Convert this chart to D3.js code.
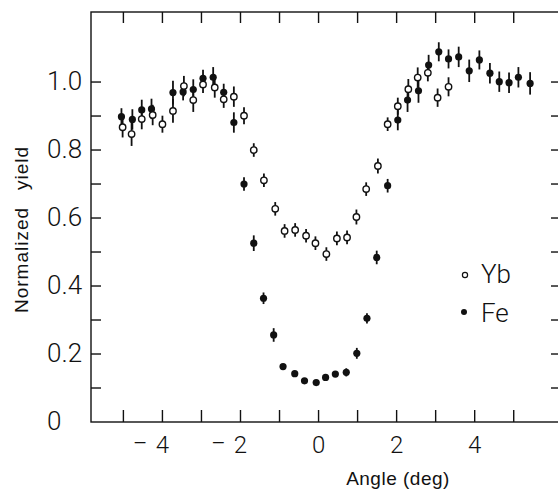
<!DOCTYPE html>
<html lang="en">
<head>
    <meta charset="UTF-8">
    <title>Normalized yield vs angle</title>
    <script src="https://d3js.org/d3.v7.min.js"></script>
    <style>
        body { margin: 0; background: #fff; }
        .tick-label { font-family: Roboto, Lato, "Liberation Sans", sans-serif; font-weight: 300; fill: #111; }
        .axis-title { font-family: "Liberation Sans", Arial, sans-serif; fill: #111; }
    </style>
</head>
<body>
    <div id="chart"></div>
    <script>
        // Fe (filled) : angle, yield, error
        const feAngle = [-5.05, -4.77, -4.53, -4.28, -3.73, -3.47, -3.21, -2.96, -2.70, -2.43, -2.17, -1.91, -1.66, -1.41, -1.15,
            -0.91, -0.61, -0.36, -0.06, 0.18, 0.43, 0.71, 0.98, 1.24, 1.49, 1.77, 2.03, 2.28, 2.56, 2.82,
            3.08, 3.33, 3.59, 3.86, 4.12, 4.39, 4.63, 4.88, 5.12, 5.42];
        const feYield = [0.898, 0.890, 0.918, 0.921, 0.969, 0.971, 0.978, 1.011, 1.014, 0.970, 0.881, 0.700, 0.526, 0.364, 0.256,
            0.163, 0.142, 0.121, 0.116, 0.131, 0.141, 0.146, 0.202, 0.305, 0.484, 0.695, 0.888, 0.947, 0.974, 1.050,
            1.089, 1.068, 1.074, 1.033, 1.065, 1.026, 1.001, 0.998, 1.014, 0.996];
        const feErr = [0.025, 0.03, 0.03, 0.03, 0.035, 0.025, 0.03, 0.025, 0.03, 0.025, 0.03, 0.02, 0.023, 0.017, 0.02,
            0, 0, 0, 0, 0, 0, 0.012, 0.016, 0.015, 0.02, 0.02, 0.03, 0.035, 0.035, 0.03,
            0.028, 0.028, 0.03, 0.033, 0.028, 0.03, 0.03, 0.03, 0.03, 0.033];

        // Yb (open)
        const ybAngle = [-5.02, -4.79, -4.53, -4.25, -4.00, -3.73, -3.45, -3.21, -2.96, -2.66, -2.43, -2.17, -1.91, -1.66, -1.40,
            -1.11, -0.87, -0.60, -0.32, -0.08, 0.20, 0.47, 0.73, 0.97, 1.22, 1.52, 1.77, 2.03, 2.30, 2.54,
            2.80, 3.05, 3.33];
        const ybYield = [0.867, 0.847, 0.891, 0.903, 0.876, 0.915, 0.988, 0.947, 0.993, 0.984, 0.949, 0.957, 0.901, 0.800, 0.711,
            0.627, 0.562, 0.565, 0.548, 0.526, 0.494, 0.540, 0.543, 0.603, 0.685, 0.753, 0.876, 0.929, 0.979, 1.013,
            1.027, 0.954, 0.986];
        const ybErr = [0.03, 0.035, 0.03, 0.03, 0.025, 0.035, 0.03, 0.035, 0.025, 0.03, 0.025, 0.03, 0.025, 0.02, 0.02,
            0.02, 0.02, 0.02, 0.02, 0.02, 0.02, 0.02, 0.02, 0.022, 0.02, 0.022, 0.02, 0.025, 0.03, 0.03,
            0.025, 0.027, 0.028];

        const xTicks = [-5, -4, -3, -2, -1, 0, 1, 2, 3, 4, 5];
        const xLabels = [-4, -2, 0, 2, 4];
        const yTicks = [0.1, 0.2, 0.3, 0.4, 0.5, 0.6, 0.7, 0.8, 0.9, 1.0];
        const yLabels = [0, 0.2, 0.4, 0.6, 0.8, 1.0];

        const W = 558, H = 490;
        const plotL = 91, plotR = 559, plotT = 12, plotB = 422;

        const svg = d3.select("#chart").append("svg")
            .attr("width", W).attr("height", H);

        const x = d3.scaleLinear().domain([-5.83, 6.16]).range([plotL, plotR]);
        const y = d3.scaleLinear().domain([0, 1.206]).range([plotB, plotT]);

        const ink = "#111";

        // frame
        svg.append("rect")
            .attr("x", plotL).attr("y", plotT)
            .attr("width", plotR - plotL).attr("height", plotB - plotT)
            .attr("fill", "none").attr("stroke", ink).attr("stroke-width", 1.4);

        // ticks, inward on all sides
        const tk = svg.append("g").attr("stroke", ink).attr("stroke-width", 1.4);
        xTicks.forEach(t => {
            tk.append("line").attr("x1", x(t)).attr("x2", x(t)).attr("y1", plotB).attr("y2", plotB - 12);
            tk.append("line").attr("x1", x(t)).attr("x2", x(t)).attr("y1", plotT).attr("y2", plotT + 11);
        });
        yTicks.forEach(t => {
            tk.append("line").attr("x1", plotL).attr("x2", plotL + 10).attr("y1", y(t)).attr("y2", y(t));
            tk.append("line").attr("x1", plotR).attr("x2", plotR - 8).attr("y1", y(t)).attr("y2", y(t));
        });

        // x tick labels: digit centred on tick, minus sign to its left
        xLabels.forEach(v => {
            svg.append("text").attr("class", "tick-label")
                .attr("x", x(v)).attr("y", 453)
                .attr("text-anchor", "middle")
                .style("font-size", "24px")
                .text(Math.abs(v));
            if (v < 0) {
                svg.append("text").attr("class", "tick-label")
                    .attr("x", x(v) - 15).attr("y", 451)
                    .attr("text-anchor", "end")
                    .style("font-size", "22px")
                    .text("–");
            }
        });

        // y tick labels, left aligned
        yLabels.forEach(v => {
            svg.append("text").attr("class", "tick-label")
                .attr("x", 47).attr("y", y(v) + 8)
                .style("font-size", "26px")
                .text(v === 0 ? "0" : v.toFixed(1));
        });

        // axis titles
        svg.append("text").attr("class", "axis-title")
            .attr("x", 398).attr("y", 485)
            .attr("text-anchor", "middle")
            .style("font-size", "19px")
            .style("letter-spacing", "0.5px")
            .text("Angle (deg)");

        svg.append("text").attr("class", "axis-title")
            .attr("transform", "translate(28,313) rotate(-90)")
            .style("font-size", "19px")
            .style("letter-spacing", "1px")
            .text("Normalized");
        svg.append("text").attr("class", "axis-title")
            .attr("transform", "translate(28,190) rotate(-90)")
            .style("font-size", "19px")
            .style("letter-spacing", "1px")
            .text("yield");

        // build point lists
        const fe = feAngle.map((a, i) => ({ a, v: feYield[i], e: feErr[i] }));
        const yb = ybAngle.map((a, i) => ({ a, v: ybYield[i], e: ybErr[i] }));

        // error bars
        const bars = svg.append("g").attr("stroke", ink).attr("stroke-width", 1.8);
        fe.concat(yb).filter(d => d.e > 0).forEach(d => {
            bars.append("line")
                .attr("x1", x(d.a)).attr("x2", x(d.a))
                .attr("y1", y(d.v - d.e)).attr("y2", y(d.v + d.e));
        });

        // markers
        svg.append("g").selectAll("circle").data(fe).enter().append("circle")
            .attr("cx", d => x(d.a)).attr("cy", d => y(d.v))
            .attr("r", 3.6).attr("fill", ink);

        svg.append("g").selectAll("circle").data(yb).enter().append("circle")
            .attr("cx", d => x(d.a)).attr("cy", d => y(d.v))
            .attr("r", 3.2).attr("fill", "#fff")
            .attr("stroke", ink).attr("stroke-width", 1.4);

        // legend
        svg.append("circle").attr("cx", 465).attr("cy", 275).attr("r", 2.6)
            .attr("fill", "#fff").attr("stroke", ink).attr("stroke-width", 1.2);
        svg.append("text").attr("class", "tick-label")
            .attr("x", 481).attr("y", 283).style("font-size", "26px").text("Yb");
        svg.append("circle").attr("cx", 464).attr("cy", 312).attr("r", 3)
            .attr("fill", ink);
        svg.append("text").attr("class", "tick-label")
            .attr("x", 481).attr("y", 322).style("font-size", "26px").text("Fe");
    </script>
</body>
</html>
